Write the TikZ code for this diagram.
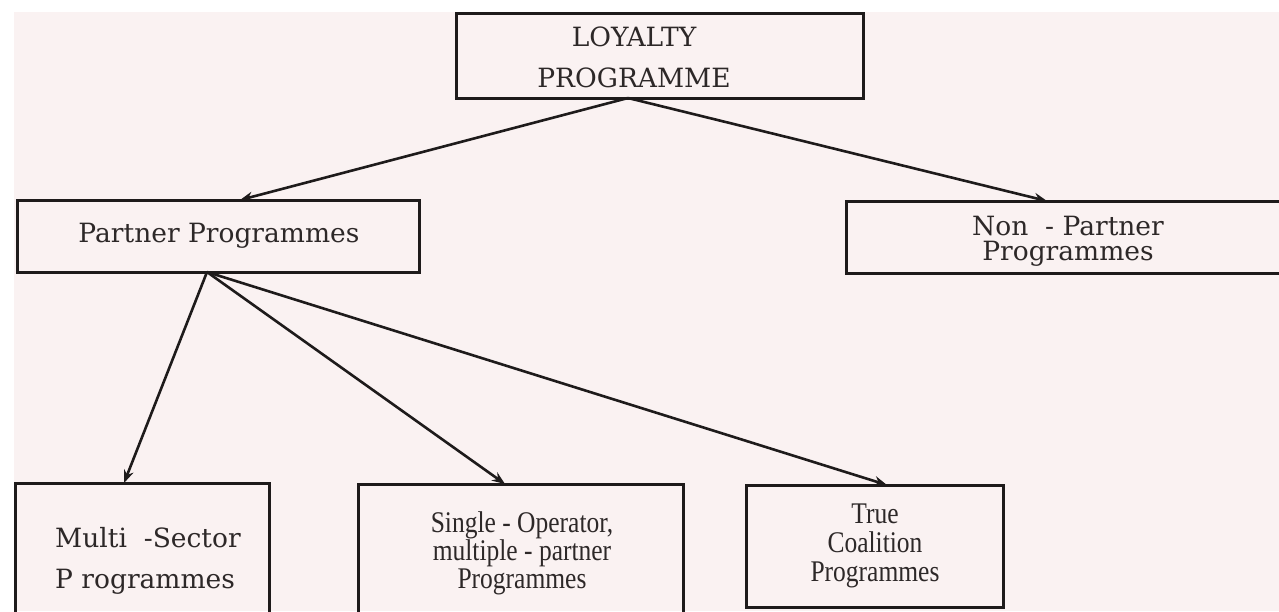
\documentclass[tikz,border=0pt]{standalone}
\usepackage{fontspec}
\setmainfont{DejaVu Serif}
\newfontfamily\timesfont[FakeStretch=0.85]{Liberation Serif}
\usetikzlibrary{arrows.meta}
\definecolor{paper}{RGB}{250,242,242}
\definecolor{ink}{RGB}{30,27,27}
\definecolor{textink}{RGB}{45,40,40}
\tikzset{
  box/.style={draw=ink, line width=3pt, inner sep=0pt, outer sep=0pt},
  txt/.style={inner sep=0pt, text=textink, align=center},
  bookman/.style={font=\fontsize{26.5}{#1}\selectfont},
  roman/.style={font=\timesfont\fontsize{30}{#1}\selectfont},
  conn/.style={draw=ink, line width=2.6pt, -{Stealth[length=13pt,width=10pt]}}
}
\begin{document}
\begin{tikzpicture}[x=1pt,y=-1pt]
\useasboundingbox (0,0) rectangle (1279,611);
\clip (0,0) rectangle (1279,611);
\fill[white] (0,0) rectangle (1279,611);
\fill[paper] (14,12) rectangle (1279,611);
% boxes
\node[box, minimum width=407pt, minimum height=85pt] (loyalty) at (659.5,55.5) {};
\node[box, minimum width=402pt, minimum height=72pt] (partner) at (218,236) {};
\node[box, minimum width=444pt, minimum height=72pt] (nonpartner) at (1068,237) {};
\node[box, minimum width=254pt, minimum height=157pt] (multi) at (142,561.5) {};
\node[box, minimum width=325pt, minimum height=156pt] (single) at (520.5,562) {};
\node[box, minimum width=257pt, minimum height=122pt] (true) at (874.5,546) {};
% texts
\node[txt, bookman=41pt] (loyaltytxt) at (634,57) {LOYALTY\\PROGRAMME};
\node[txt, bookman=30pt] (partnertxt) at (219,236) {Partner Programmes};
\node[txt, bookman=25pt] (nonpartnertxt) at (1068,241.5) {Non\ \ - Partner\\Programmes};
\node[txt, bookman=41pt, align=left, anchor=west] (multitxt) at (55,561) {Multi\ \ -Sector\\P rogrammes};
\node[txt, roman=28pt] (singletxt) at (522,553) {Single - Operator,\\multiple - partner\\Programmes};
\node[txt, roman=29pt] (truetxt) at (875,546) {True\\Coalition\\Programmes};
% connectors
\draw[conn] ([xshift=-31.5pt]loyalty.south) -- ([xshift=22pt]partner.north);
\draw[conn] ([xshift=-31.5pt]loyalty.south) -- ([xshift=-21pt]nonpartner.north);
\draw[conn] ([xshift=-11pt]partner.south) -- ([xshift=-18pt]multi.north);
\draw[conn] ([xshift=-11pt]partner.south) -- ([xshift=-15.5pt]single.north);
\draw[conn] ([xshift=-11pt]partner.south) -- ([xshift=12.5pt]true.north);
\end{tikzpicture}
\end{document}
